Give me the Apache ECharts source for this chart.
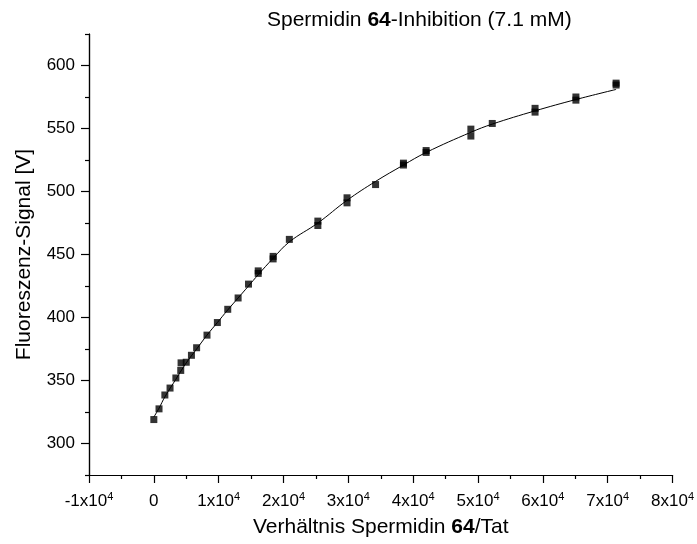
<!DOCTYPE html>
<html>
<head>
<meta charset="utf-8">
<script src="https://cdn.jsdelivr.net/npm/echarts@6/dist/echarts.min.js"></script>
<style>html,body{margin:0;padding:0;background:#fff;}#c{width:697px;height:544px;}</style>
</head>
<body>
<div id="c"></div>
<script>
// Measured points (x = Spermidin 64 / Tat ratio, y = fluorescence signal)
const pointX = [0, 800, 1700, 2500, 3400, 4150, 4200, 5000, 5800, 6600, 8200, 9800, 11400, 13000, 14600,
  16100, 16100, 18400, 18400, 20900, 25300, 25300, 29800, 29800, 34200, 38500, 38500, 42000, 42000,
  48900, 48900, 52200, 58800, 58800, 65100, 65100, 71300, 71300];
const pointY = [319, 327.5, 338.5, 344, 352, 358, 364, 364.5, 370, 376, 386, 396, 406.5, 415.5, 426.5,
  437, 435, 448.5, 446.5, 462, 476.5, 473, 495, 491, 505.5, 522.5, 521, 532.5, 531,
  549.5, 544, 554, 566, 563, 575, 572.5, 586, 584.5];
// Fit curve
const fitX = [0, 800, 1700, 3400, 5000, 6600, 8200, 9800, 11400, 13000, 14600, 16100, 18400, 20900,
  25300, 29800, 34200, 38500, 42000, 48900, 52200, 58800, 65100, 71300];
const fitY = [321, 328, 337, 351, 364, 375, 386, 396, 406, 415.5, 425, 434, 447, 460,
  475, 493, 508, 521, 531, 547, 553.5, 564, 573, 581];
// Tick values
const xMajorTicks = [-10000, 0, 10000, 20000, 30000, 40000, 50000, 60000, 70000, 80000];
const xMinorTicks = [-5000, 5000, 15000, 25000, 35000, 45000, 55000, 65000, 75000];
const xTickLabels = ['-1x10|4', '0', '1x10|4', '2x10|4', '3x10|4', '4x10|4', '5x10|4', '6x10|4', '7x10|4', '8x10|4'];
const yMajorTicks = [300, 350, 400, 450, 500, 550, 600];
const yMinorTicks = [275, 325, 375, 425, 475, 525, 575, 625];

const FONT = 'Liberation Sans, Arial, sans-serif';
const chart = echarts.init(document.getElementById('c'), null, {renderer: 'canvas'});

const axisLineStyle = {show: true, onZero: false, lineStyle: {color: '#000', width: 1.2}};

function xLabel(v) {
  const i = xMajorTicks.indexOf(Math.round(v));
  if (i < 0) return '';
  const p = xTickLabels[i].split('|');
  return p.length > 1 ? '{n|' + p[0] + '}{s|' + p[1] + '}' : '{n|' + p[0] + '}';
}

const nameRich = {
  a: {fontSize: 21, fontFamily: FONT, color: '#000', fontWeight: 'normal'},
  b: {fontSize: 21, fontFamily: FONT, color: '#000', fontWeight: 'bold'}
};

chart.setOption({
  animation: false,
  backgroundColor: '#fff',
  title: {
    text: '{a|Spermidin }{b|64}{a|-Inhibition (7.1 mM)}',
    left: 262, top: 5,
    textStyle: {fontWeight: 'normal', rich: nameRich}
  },
  grid: {left: 89, right: 24, top: 34, bottom: 69, containLabel: false},
  xAxis: [
    {
      type: 'value', min: -10000, max: 80000, position: 'bottom',
      axisLine: axisLineStyle,
      splitLine: {show: false},
      axisTick: {show: true, length: 8, customValues: xMajorTicks, lineStyle: {color: '#000', width: 1.2}},
      axisLabel: {
        show: true, margin: 16, customValues: xMajorTicks,
        formatter: xLabel,
        rich: {
          n: {fontSize: 17, fontFamily: FONT, color: '#000', lineHeight: 20},
          s: {fontSize: 11, fontFamily: FONT, color: '#000', verticalAlign: 'top', lineHeight: 20}
        }
      },
      name: '{a|Verhältnis Spermidin }{b|64}{a|/Tat}',
      nameLocation: 'middle', nameGap: 42,
      nameTextStyle: {rich: nameRich}
    },
    {
      type: 'value', min: -10000, max: 80000, position: 'bottom',
      axisLine: axisLineStyle,
      splitLine: {show: false},
      axisTick: {show: true, length: 4, customValues: xMinorTicks, lineStyle: {color: '#000', width: 1.2}},
      axisLabel: {show: false}
    }
  ],
  yAxis: [
    {
      type: 'value', min: 275, max: 625, position: 'left',
      axisLine: axisLineStyle,
      splitLine: {show: false},
      axisTick: {show: true, length: 8, customValues: yMajorTicks, lineStyle: {color: '#000', width: 1.2}},
      axisLabel: {show: true, margin: 14, customValues: yMajorTicks, fontSize: 17, fontFamily: FONT, color: '#000'},
      name: 'Fluoreszenz-Signal [V]',
      nameLocation: 'middle', nameGap: 54,
      nameTextStyle: {fontSize: 21, fontFamily: FONT, color: '#000'}
    },
    {
      type: 'value', min: 275, max: 625, position: 'left',
      axisLine: axisLineStyle,
      splitLine: {show: false},
      axisTick: {show: true, length: 4, customValues: yMinorTicks, lineStyle: {color: '#000', width: 1.2}},
      axisLabel: {show: false}
    }
  ],
  series: [
    {
      type: 'line', xAxisIndex: 0, yAxisIndex: 0,
      data: fitX.map((x, i) => [x, fitY[i]]),
      smooth: 0.4, showSymbol: false, symbol: 'none',
      lineStyle: {color: '#000', width: 1}
    },
    {
      type: 'scatter', xAxisIndex: 0, yAxisIndex: 0,
      data: pointX.map((x, i) => [x, pointY[i]]),
      symbol: 'rect', symbolSize: 7,
      itemStyle: {color: '#000'}
    }
  ]
});
</script>
</body>
</html>
